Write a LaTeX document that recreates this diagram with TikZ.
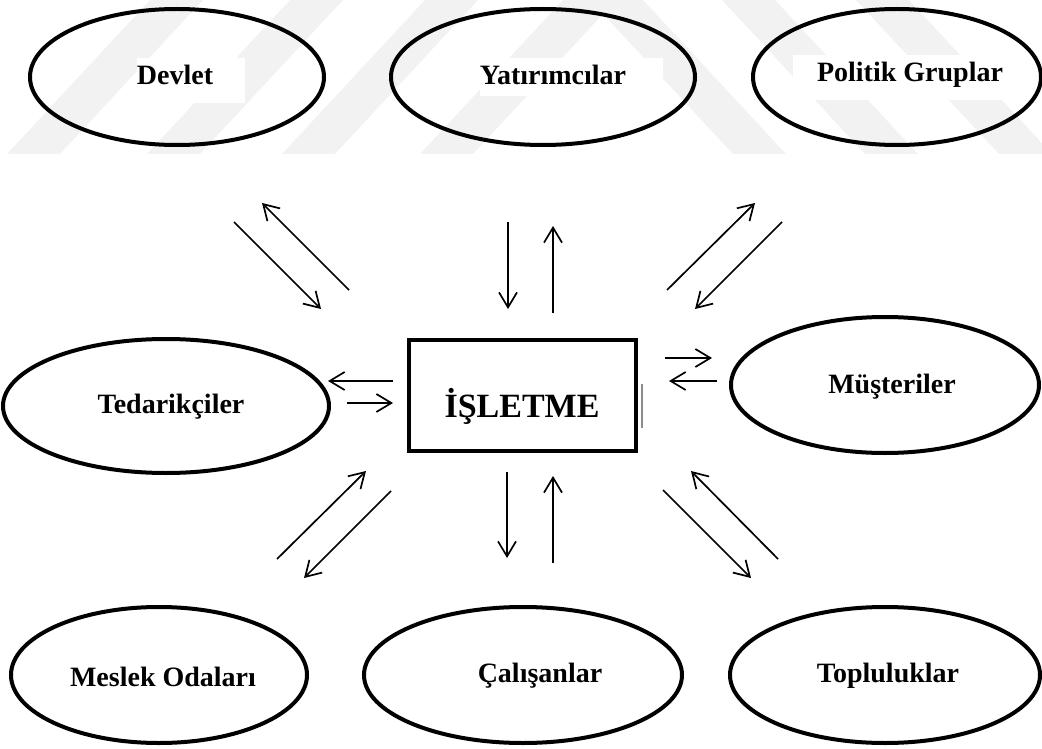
\documentclass[tikz,border=0pt]{standalone}
\usepackage{fontspec}
\setmainfont{Liberation Serif}
\usetikzlibrary{shapes.geometric,arrows.meta}

\tikzset{
  party/.style={draw=black, line width=4pt, ellipse, inner sep=0pt},
  partytext/.style={font=\fontsize{28}{30}\selectfont\bfseries, anchor=base, inner sep=0pt},
  firm/.style={draw=black, line width=4pt, rectangle, inner sep=0pt,
    minimum width=227pt, minimum height=111pt},
  firmtext/.style={font=\fontsize{34}{38}\selectfont\bfseries, anchor=base},
  flow/.style={line width=1.7pt, -{Straight Barb[length=15pt,width=18pt,line width=1.7pt]}},
  bgstripe/.style={fill=black!5, draw=none}
}

\begin{document}
\begin{tikzpicture}[x=1pt, y=-1pt]
\useasboundingbox (0,0) rectangle (1042,749);

% faint background stripes at the top
\foreach \b in {7,147,282,420}
  \fill[bgstripe] (\b,154) -- (\b+53,154) -- (\b+196,0) -- (\b+143,0) -- cycle;
\foreach \t in {590,722,856}
  \fill[bgstripe] (\t,0) -- (\t+53,0) -- (\t+196,154) -- (\t+143,154) -- cycle;

% white patches behind the upper labels
\fill[white] (137,58) rectangle (245,103);
\fill[white] (480,58) rectangle (663,96);
\fill[white] (793,55) rectangle (1002,100);

% stakeholder ellipses
\node[party, minimum width=294pt, minimum height=136pt] (devlet) at (177,77) {};
\node[party, minimum width=304pt, minimum height=136pt] (yatirim) at (543,77) {};
\node[party, minimum width=288pt, minimum height=136pt] (politik) at (897,77) {};
\node[party, minimum width=326pt, minimum height=134pt] (tedarik) at (166,406) {};
\node[party, minimum width=308pt, minimum height=136pt] (musteri) at (885,385) {};
\node[party, minimum width=296pt, minimum height=136pt] (meslek) at (159,675) {};
\node[party, minimum width=318pt, minimum height=136pt] (calisan) at (523,675) {};
\node[party, minimum width=310pt, minimum height=136pt] (topluluk) at (885,675) {};

\node[partytext] (tdevlet) at (175,85) {Devlet};
\node[partytext] (tyatirim) at (553,85) {Yatırımcılar};
\node[partytext] (tpolitik) at (910,82) {Politik Gruplar};
\node[partytext] (ttedarik) at (171,413) {Tedarikçiler};
\node[partytext] (tmusteri) at (892,393) {Müşteriler};
\node[partytext] (tmeslek) at (163,686) {Meslek Odaları};
\node[partytext] (tcalisan) at (540,682) {Çalışanlar};
\node[partytext] (ttopluluk) at (888,682) {Topluluklar};

% the firm in the middle
\node[firm] (isletme) at (522.5,395.5) {};
\node[firmtext] (tisletme) at (522,417) {İŞLETME};
\draw[black!45, line width=1.5pt] (isletme.east) ++(4,-12) coordinate (tk1) -- ++(0,44) coordinate (tk2);

% arrow end points
\coordinate (a1s) at (234,222); \coordinate (a1e) at (321,309);
\coordinate (a2s) at (349,290); \coordinate (a2e) at (262,203);
\coordinate (b1s) at (508,222); \coordinate (b1e) at (508,309);
\coordinate (b2s) at (553,313); \coordinate (b2e) at (553,226);
\coordinate (c1s) at (667,290); \coordinate (c1e) at (755,203);
\coordinate (c2s) at (782,222); \coordinate (c2e) at (695,309);
\coordinate (d1s) at (393,381); \coordinate (d1e) at (328,381);
\coordinate (d2s) at (347,403); \coordinate (d2e) at (393,403);
\coordinate (e1s) at (665,358); \coordinate (e1e) at (712,358);
\coordinate (e2s) at (717,381); \coordinate (e2e) at (669,381);
\coordinate (f1s) at (277,559); \coordinate (f1e) at (366,471);
\coordinate (f2s) at (391,491); \coordinate (f2e) at (304,578);
\coordinate (g1s) at (507,472); \coordinate (g1e) at (507,558);
\coordinate (g2s) at (553,563); \coordinate (g2e) at (553,476);
\coordinate (h1s) at (663,490); \coordinate (h1e) at (751,578);
\coordinate (h2s) at (778,559); \coordinate (h2e) at (691,471);

% two-way flows between the firm and each group
\foreach \p in {a,b,c,d,e,f,g,h}{
  \draw[flow] (\p1s) -- (\p1e);
  \draw[flow] (\p2s) -- (\p2e);
}
\end{tikzpicture}
\end{document}
